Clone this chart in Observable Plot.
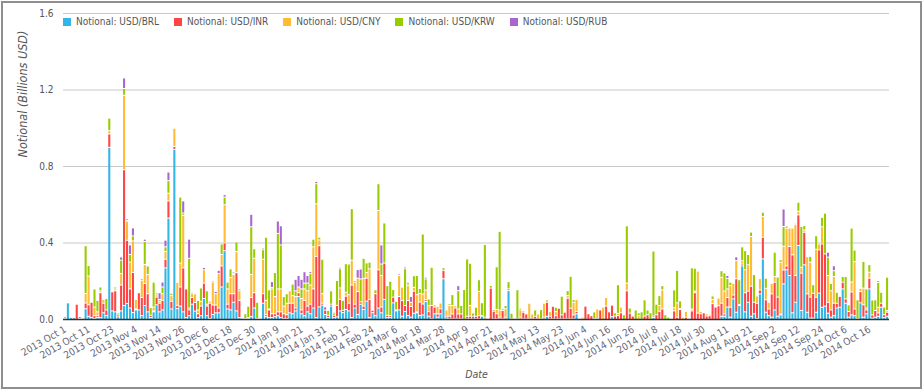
<!DOCTYPE html>
<html>
<head>
<meta charset="utf-8">
<script src="https://cdn.jsdelivr.net/npm/d3@7"></script>
<script src="https://cdn.jsdelivr.net/npm/@observablehq/plot@0.6"></script>
<style>
  html, body { margin: 0; padding: 0; background: #fff; }
  #root { position: relative; width: 924px; height: 392px; overflow: hidden;
          font-family: "DejaVu Sans Condensed", "DejaVu Sans", sans-serif; font-stretch: condensed; }
  #root svg { position: absolute; left: 0; top: 0; }
  #frame { position: absolute; left: 1px; top: 1px; width: 921px; height: 388px; box-sizing: border-box;
           border: 2px solid #8e8e8e; pointer-events: none; }
  #legend { position: absolute; left: 63px; top: 15px; display: flex; font-size: 10px; color: #555; line-height: 14px; }
  .item { display: flex; align-items: center; margin-right: 15px; white-space: nowrap; }
  .sw { width: 8px; height: 8px; margin-right: 5px; }
</style>
</head>
<body>
<div id="root"><div id="frame"></div><div id="legend"></div></div>
<script>
const seriesNames = ["Notional: USD/BRL", "Notional: USD/INR", "Notional: USD/CNY", "Notional: USD/KRW", "Notional: USD/RUB"];
const seriesColors = ["#33B5E5", "#FF4444", "#FFBB33", "#99CC00", "#AA66CC"];
const firstDay = "2013-10-01";
const lastDay = "2014-10-24";
const yTicks = [0, 0.4, 0.8, 1.2, 1.6];

const brl = [
0,.087,.01,.01,0,.005,0,.056,.017,.01,
.005,.01,.01,.035,.02,.9,.045,.04,.014,.045,
.073,.084,.06,.036,.05,.05,.02,.073,.04,.01,
.04,.077,.04,.05,.27,.53,.055,.89,.057,.07,
.04,.01,.02,.08,.044,.01,.02,.11,.02,.005,
.026,.035,.035,.17,.36,.055,.05,.09,.045,.01,
0,.005,.005,.015,.06,.005,0,.085,.015,.01,
.01,.015,.02,.01,.005,.005,.035,.03,.045,.12,
.03,.02,.04,.03,.06,.01,.066,.075,.026,.01,
.07,.01,.014,.045,.036,.052,.045,.01,.06,.026,
.08,.052,.096,.01,.036,.02,.06,.035,.105,.01,
.01,.087,.045,.05,.017,.042,.021,.012,.033,.035,
.021,.024,.094,.017,.003,.03,.012,.03,.213,.007,
.003,.003,.003,.003,.003,0,.003,.003,.003,.003,
.003,.017,.003,0,0,.003,.003,.003,.003,.003,
.151,.003,0,.003,.003,.003,.003,.003,.003,.003,
.003,.003,.003,.017,.003,.003,.003,.003,.003,.003,
.003,.003,.003,.03,0,0,0,0,0,0,
0,0,0,0,0,.015,0,0,0,0,
0,0,0,0,0,0,0,0,0,.01,
0,0,0,0,0,0,0,0,0,0,
0,0,0,0,0,0,0,0,0,0,
0,0,.017,.017,.065,.012,.108,.038,.073,.28,
.04,.09,.017,.03,.005,.134,.317,.038,.02,.012,
.05,.017,.024,.186,.26,.23,.035,.09,.387,.047,
.286,.038,.007,.007,.038,.138,.064,.07,.033,.012,
.02,.06,.064,.16,.085,.012,.024,.02,.003,.087,
.012,.03,.16,.007,.012,.017,.064,.01,.017];

const inr = [
0,0,.006,0,.08,.01,0,.03,.06,.08,
.015,.01,.13,.05,.03,.07,.1,.11,.01,.135,
.71,.33,.1,.21,.005,.09,.095,.115,.095,.012,
.005,.04,.045,.05,.045,.09,.04,.015,.017,.1,
.23,.15,.03,.035,.045,.02,.05,.08,.05,.08,
.05,.04,.025,.11,.04,.025,.085,.045,.2,.09,
.005,0,.005,.1,.08,0,0,.05,.01,.04,
.02,.015,.02,.03,.025,.02,.05,.055,.015,.02,
.02,.08,.03,.05,.1,.32,.32,.01,.023,.012,
.01,.012,.06,.06,.012,.07,.04,.17,.02,.12,
.012,.018,.12,.095,.012,.115,.2,.03,.19,.012,
.01,.03,.005,.07,.082,.031,.078,.056,.115,.005,
.07,.057,.01,.024,.07,.035,.017,.026,.044,.01,
.014,.026,.057,.026,.026,0,.014,.014,.014,.014,
.017,.003,.009,0,.164,.04,.027,.009,.044,.009,
.009,0,0,0,.009,.035,.026,0,0,.014,
0,0,.009,.073,.014,.066,.017,.056,.021,.035,
.108,.056,.021,.012,0,0,.07,.03,.02,0,
.005,.05,0,.07,.04,.06,.018,.02,.035,0,
.15,.033,.018,0,0,0,.018,.025,0,.008,
.025,.043,.055,0,0,0,.045,.012,.052,0,
.012,0,.045,.14,.033,.03,.035,.018,.02,.083,
.065,.072,.068,.012,.05,.052,.02,.175,.005,.01,
.1,.058,.157,.06,.08,.02,.113,.065,.035,.122,
.145,.1,.005,.073,.02,.152,.303,.14,.16,.195,
.17,.096,.11,.13,.078,.226,.331,.273,.057,.038,
.065,.025,.057,.035,.023,.03,.12,.035,0,.059,
.065,.02,.056,.017,.035,.017,.021,.015,.021];

const cny = [
.005,0,0,0,0,0,.005,.05,.15,0,
.045,.02,.01,.02,0,.017,0,.01,0,.06,
.39,.1,.14,.165,.05,.005,.09,.1,.1,0,
.02,.012,.01,.035,.04,.04,.03,.095,.12,.125,
.275,.005,.01,.02,.045,.02,.025,.07,.01,.012,
.12,.06,.18,.06,.2,.08,.085,.1,.11,.05,
0,0,0,.12,.18,0,0,.18,.075,.005,
.13,.09,.12,.12,.04,.06,.065,.04,.06,.03,
.06,.06,.08,.1,.22,.275,.03,.05,0,0,
0,0,0,.06,0,.02,.045,.13,.115,.07,
0,.145,.03,.16,0,0,.31,.165,0,0,
0,0,0,.11,.07,0,.078,.022,.02,.09,
.045,.052,.05,.031,0,.012,.04,.03,0,.033,
.056,.044,.012,.026,0,0,0,.056,0,0,
.127,0,0,0,0,0,.023,.038,0,.044,
0,0,0,0,.038,.009,0,.082,.026,0,
.026,0,.073,.014,.024,0,.021,.005,0,0,
.014,0,.066,.063,0,.008,0,0,0,.005,
.05,0,.065,.045,0,0,0,.012,.03,0,
.04,0,0,0,.02,0,0,0,0,0,
0,.03,.1,0,0,0,.017,.075,.005,.012,
.03,0,.01,.008,.22,.012,0,.012,.008,.022,
.005,.04,.135,.12,.045,.113,.062,.095,0,.017,
.12,.138,.26,0,.038,.06,.108,.06,.035,.055,
.03,0,.27,.124,.197,.096,.14,.266,.019,.031,
.012,.195,.183,0,.251,.031,.09,0,.14,.1,
.14,0,0,0,0,0,.052,.247,0,.017,
.087,.01,.031,0,0,.03,0,0,.009];

const krw = [
.01,0,0,0,0,0,.006,.25,.055,0,
.095,.06,.02,.005,.06,.066,0,.01,.01,.07,
.035,.005,.04,.026,.005,0,0,.12,.045,.04,
.13,.01,.01,.035,.025,.066,.012,0,0,.345,
.012,.005,.26,0,0,.05,.07,0,.07,.005,
0,0,0,.055,.04,.035,.045,.005,.05,.01,
0,.025,.06,.25,.05,.085,0,.05,.33,.1,
.008,.125,.29,.23,.05,.05,0,.06,.03,0,
.05,.03,.04,.06,.04,.105,.014,.18,0,.026,
.07,.012,.13,.1,.052,.15,.16,.27,0,0,
.12,.105,.05,.035,0,.02,.14,.06,.21,.155,
.18,.04,.045,0,0,.192,.009,0,.061,.1,
.026,.314,.058,.035,.2,0,0,0,.014,0,
.009,.057,0,.096,.044,.157,.3,.221,.017,.047,
.061,.068,.38,0,.014,.009,.223,.411,.009,.017,
.038,.03,0,.153,.009,0,.003,0,0,.033,
0,.049,0,.003,0,0,.023,0,.098,0,
.026,.167,.014,0,0,.007,0,0,0,.035,
0,0,0,0,0,0,.017,.15,.005,.025,
.3,.027,0,.05,.015,.04,.085,.025,.035,.34,
.055,.052,.022,.025,.012,0,.093,.17,.04,0,
0,0,.215,.12,0,0,0,0,0,.018,
.005,.005,.035,.095,.055,.018,0,0,.13,.073,
.1,.054,.023,.145,0,0,.023,.053,0,.005,
.127,.105,.014,.103,.012,0,0,.007,.047,.213,
.023,0,.03,.045,.071,0,.049,.213,.096,.038,
.03,.057,0,.03,.117,.035,.282,.061,.1,0,
.14,.1,.04,.078,.056,.13,.057,.04,.174];

const rub = [
0,0,0,0,0,0,0,0,0,0,
0,0,0,0,0,0,0,0,0,.017,
.055,.008,.05,.042,0,0,.008,.012,0,.004,
0,0,.035,.026,.035,.045,0,0,0,0,
.063,0,.1,.007,0,0,0,.012,0,0,
.007,.012,.017,0,.013,0,0,.008,0,0,
0,0,.005,.065,0,0,0,.008,.005,0,
.03,0,.065,.1,0,.005,.005,0,.06,.06,
.05,.06,.04,.01,0,.012,.004,.005,.017,0,
0,.006,0,.008,0,0,0,.005,.008,.045,
.052,0,0,0,.004,0,.005,.1,.003,0,
0,0,0,.008,0,.009,.009,.03,0,0,
0,.003,.009,0,0,0,0,0,0,0,
0,0,0,.026,0,0,0,0,0,0,
0,0,0,0,0,0,0,0,0,0,
0,0,0,0,0,0,0,0,0,0,
0,0,0,0,0,0,0,0,0,0,
0,0,0,0,0,0,0,0,0,0,
0,0,0,0,0,0,0,0,0,0,
0,0,0,0,0,0,0,0,0,0,
0,0,0,0,.003,0,0,0,.003,.003,
0,0,0,0,0,0,0,0,0,0,
0,0,0,0,.015,0,0,.02,0,0,
0,0,0,0,0,0,0,0,0,0,
0,0,0,.092,0,0,0,0,0,0,
0,0,0,0,0,0,0,0,.026,0,
.026,0,0,0,0,0,0,0,0,0,
0,0,0,0,0,.009,0,0,0];

const parse = d3.utcParse("%Y-%m-%d");
const iso = d3.utcFormat("%Y-%m-%d");
const fmtTick = d3.utcFormat("%Y %b %-d");
const dates = d3.utcDays(parse(firstDay), d3.utcDay.offset(parse(lastDay), 1))
  .filter(d => d.getUTCDay() !== 0 && d.getUTCDay() !== 6)
  .map(iso);
const tickDates = dates.filter((d, i) => i % 8 === 0);

const seriesValues = [brl, inr, cny, krw, rub];
const rows = [];
seriesValues.forEach((arr, s) => arr.forEach((v, i) => {
  if (i < dates.length) rows.push({date: dates[i], series: seriesNames[s], value: v});
}));

const chart = Plot.plot({
  width: 924, height: 392,
  marginLeft: 63, marginRight: 35, marginTop: 13, marginBottom: 73,
  style: {fontFamily: '"DejaVu Sans Condensed", "DejaVu Sans", sans-serif', fontSize: "10px", background: "transparent", overflow: "visible"},
  x: {type: "band", domain: dates, padding: 0.3, axis: null},
  y: {domain: [0, 1.6], axis: null},
  color: {domain: seriesNames, range: seriesColors},
  marks: [
    Plot.gridY(yTicks.slice(1), {stroke: "#c8c8c8", strokeOpacity: 1}),
    Plot.barY(rows, Plot.stackY({order: seriesNames}, {x: "date", y: "value", fill: "series", insetTop: 1})),
    Plot.ruleY([0], {stroke: "#333", strokeWidth: 1.5}),
    Plot.axisY({ticks: yTicks, tickFormat: d3.format(".1f"), tickSize: 0, tickPadding: 10, fill: "#555", label: null}),
    Plot.axisX({ticks: tickDates, tickFormat: d => fmtTick(parse(d)), tickRotate: -30, tickSize: 0, tickPadding: 9,
                textAnchor: "end", fill: "#667", label: null}),
    Plot.text(["Notional (Billions USD)"], {text: d => d, frameAnchor: "left", rotate: -90, dx: -41, dy: -9,
                fontSize: 12.5, fontStyle: "italic", fill: "#555", fontFamily: "DejaVu Sans"}),
    Plot.text(["Date"], {text: d => d, frameAnchor: "bottom", dy: 58, fontSize: 10.5, fontStyle: "italic", fill: "#555", fontFamily: "DejaVu Sans"})
  ]
});
const root = document.getElementById("root");
root.insertBefore(chart, root.firstChild);

const legend = document.getElementById("legend");
seriesNames.forEach((name, i) => {
  const item = document.createElement("div");
  item.className = "item";
  const sw = document.createElement("span");
  sw.className = "sw";
  sw.style.background = seriesColors[i];
  const tx = document.createElement("span");
  tx.textContent = name;
  item.appendChild(sw);
  item.appendChild(tx);
  legend.appendChild(item);
});
</script>
</body>
</html>
